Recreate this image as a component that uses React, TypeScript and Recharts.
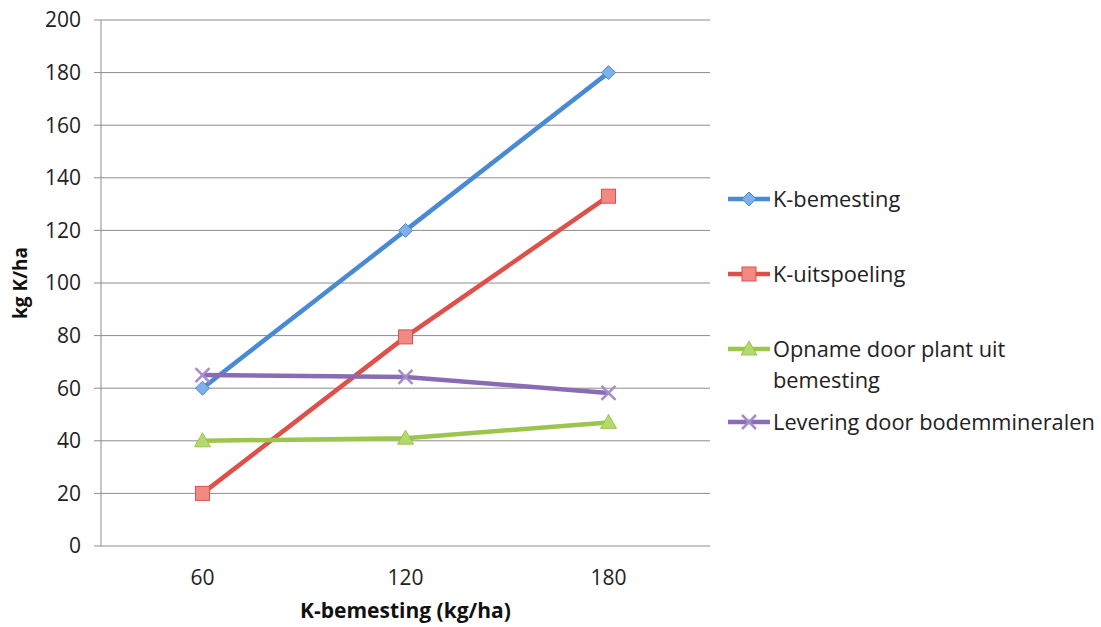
import { CartesianGrid, Line, LineChart, XAxis, YAxis } from 'recharts';

const doses = [60, 120, 180];
const bemesting = [60, 120, 180];
const uitspoeling = [20, 79.5, 133];
const opname = [40, 41, 47];
const levering = [65, 64.3, 58.2];
const yTicks = [0, 20, 40, 60, 80, 100, 120, 140, 160, 180, 200];
const boundaryTicks = [30, 90, 150, 210];

const data = doses.map((dose, i) => ({
  dose,
  bemesting: bemesting[i],
  uitspoeling: uitspoeling[i],
  opname: opname[i],
  levering: levering[i],
}));

const FONT = '"Open Sans", "Noto Sans", sans-serif';
const GRID = '#8c8c8c';

const series = [
  { key: 'bemesting', name: 'K-bemesting', color: '#4a89d4', fill: '#7fb0ea', marker: 'diamond' },
  { key: 'uitspoeling', name: 'K-uitspoeling', color: '#de5049', fill: '#f28a84', marker: 'square' },
  { key: 'opname', name: 'Opname door plant uit bemesting', color: '#9bc54e', fill: '#b5d86f', marker: 'triangle' },
  { key: 'levering', name: 'Levering door bodemmineralen', color: '#8a6cb6', fill: '#a58ccc', marker: 'x' },
];

const Marker = ({ cx, cy, type, color, fill }: any) => {
  if (cx == null || cy == null) return null;
  if (type === 'diamond') {
    return (
      <polygon
        points={`${cx},${cy - 7} ${cx + 7},${cy} ${cx},${cy + 7} ${cx - 7},${cy}`}
        fill={fill}
        stroke={color}
        strokeWidth={1}
      />
    );
  }
  if (type === 'square') {
    return <rect x={cx - 7} y={cy - 7} width={14} height={14} fill={fill} stroke={color} strokeWidth={1} />;
  }
  if (type === 'triangle') {
    return (
      <polygon
        points={`${cx},${cy - 8} ${cx + 8},${cy + 6} ${cx - 8},${cy + 6}`}
        fill={fill}
        stroke={color}
        strokeWidth={1}
      />
    );
  }
  return (
    <g stroke={fill} strokeWidth={2.5}>
      <line x1={cx - 7} y1={cy - 7} x2={cx + 7} y2={cy + 7} />
      <line x1={cx - 7} y1={cy + 7} x2={cx + 7} y2={cy - 7} />
    </g>
  );
};

const legendRows = [
  { y: 199, lines: ['K-bemesting'] },
  { y: 274, lines: ['K-uitspoeling'] },
  { y: 349, lines: ['Opname door plant uit', 'bemesting'] },
  { y: 422, lines: ['Levering door bodemmineralen'] },
];

const ChartLegend = () => (
  <svg width={391} height={627} style={{ position: 'absolute', left: 710, top: 0 }}>
    {series.map((s, i) => {
      const row = legendRows[i];
      return (
        <g key={s.key}>
          <line x1={18} y1={row.y} x2={60} y2={row.y} stroke={s.color} strokeWidth={4.5} />
          <Marker cx={39} cy={row.y} type={s.marker} color={s.color} fill={s.fill} />
          {row.lines.map((t, j) => (
            <text
              key={t}
              x={63}
              y={row.y + j * 31}
              dy="0.35em"
              fontFamily={FONT}
              fontSize={21.8}
              fill="#222"
            >
              {t}
            </text>
          ))}
        </g>
      );
    })}
  </svg>
);

export default function App() {
  return (
    <div style={{ position: 'absolute', left: 0, top: 0, width: 1101, height: 627, background: '#fff' }}>
      <LineChart
        width={1101}
        height={627}
        data={data}
        margin={{ top: 20, right: 391, bottom: 0, left: 41 }}
      >
        <CartesianGrid horizontal vertical={false} stroke={GRID} strokeWidth={1} />
        <XAxis
          xAxisId="main"
          dataKey="dose"
          type="number"
          domain={[30, 210]}
          ticks={doses}
          axisLine={false}
          tickLine={false}
          tickSize={8}
          tickMargin={16}
          tick={{ fontFamily: FONT, fontSize: 21, fill: '#222' }}
          height={81}
          label={{
            value: 'K-bemesting (kg/ha)',
            position: 'insideBottom',
            dy: -4,
            style: { fontFamily: FONT, fontSize: 21, fontWeight: 700, fill: '#111' },
          }}
        />
        <YAxis
          domain={[0, 200]}
          ticks={yTicks}
          interval={0}
          width={60}
          axisLine={{ stroke: GRID }}
          tickLine={{ stroke: GRID }}
          tickSize={7}
          tickMargin={13}
          tick={{ fontFamily: FONT, fontSize: 21, fill: '#222' }}
          label={{
            value: 'kg K/ha',
            angle: -90,
            position: 'insideLeft',
            dx: -26,
            style: { fontFamily: FONT, fontSize: 19, fontWeight: 700, fill: '#111', textAnchor: 'middle' },
          }}
        />
        {series.map((s) => (
          <Line
            key={s.key}
            xAxisId="main"
            dataKey={s.key}
            name={s.name}
            stroke={s.color}
            strokeWidth={4.5}
            isAnimationActive={false}
            dot={(p: any) => (
              <Marker key={`${s.key}-${p.index}`} cx={p.cx} cy={p.cy} type={s.marker} color={s.color} fill={s.fill} />
            )}
            activeDot={false}
          />
        ))}
        <XAxis
          xAxisId="bounds"
          dataKey="dose"
          type="number"
          domain={[30, 210]}
          ticks={boundaryTicks}
          tick={false}
          axisLine={{ stroke: GRID }}
          tickLine={{ stroke: GRID }}
          tickSize={8}
          height={0}
        />
      </LineChart>
      <ChartLegend />
    </div>
  );
}
